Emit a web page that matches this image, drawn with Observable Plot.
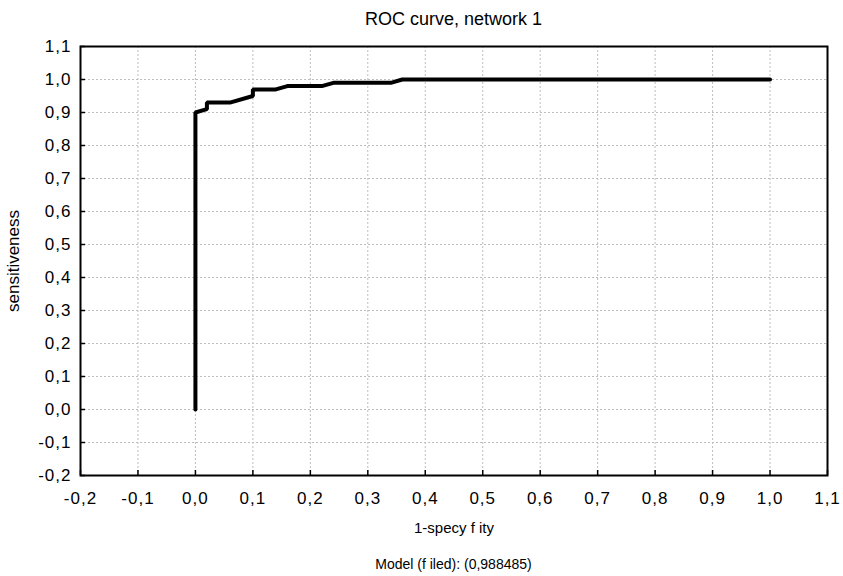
<!DOCTYPE html>
<html>
<head>
<meta charset="utf-8">
<script src="https://cdn.jsdelivr.net/npm/d3@7"></script>
<script src="https://cdn.jsdelivr.net/npm/@observablehq/plot@0.6"></script>
<style>
  html, body { margin: 0; padding: 0; background: #fff; }
  body { width: 843px; height: 576px; overflow: hidden; font-family: "Liberation Sans", Arial, Helvetica, sans-serif; color: #000; }
  .title { box-sizing: border-box; width: 843px; padding-left: 80px; padding-right: 16px; height: 38px; line-height: 38px; text-align: center; font-size: 18px; }
  .caption { box-sizing: border-box; width: 843px; padding-left: 80px; padding-right: 16px; height: 30px; line-height: 37px; text-align: center; font-size: 14px; }
  #chart svg { display: block; }
</style>
</head>
<body>
<div class="title">ROC curve, network 1</div>
<div id="chart"></div>
<div class="caption">Model (f iled): (0,988485)</div>
<script>
// ROC curve points (1 - specificity, sensitivity)
const fpr = [0, 0, 0.02, 0.02, 0.06, 0.10, 0.10, 0.14, 0.16, 0.22, 0.24, 0.34, 0.36, 1.0];
const tpr = [0, 0.90, 0.91, 0.93, 0.93, 0.95, 0.97, 0.97, 0.98, 0.98, 0.99, 0.99, 1.0, 1.0];

const xTicks = [-0.2, -0.1, 0.0, 0.1, 0.2, 0.3, 0.4, 0.5, 0.6, 0.7, 0.8, 0.9, 1.0, 1.1];
const yTicks = [-0.2, -0.1, 0.0, 0.1, 0.2, 0.3, 0.4, 0.5, 0.6, 0.7, 0.8, 0.9, 1.0, 1.1];
const xDomain = [-0.2, 1.1];
const yDomain = [-0.2, 1.1];
const xLabel = "1-specy f ity";
const yLabel = "sensitiveness";

const points = fpr.map((x, i) => ({x, y: tpr[i]}));
const fmt = d => d.toFixed(1).replace(".", ",");

const chart = Plot.plot({
  width: 843,
  height: 508,
  marginLeft: 80,
  marginRight: 16,
  marginTop: 8,
  marginBottom: 71,
  style: {fontFamily: '"Liberation Sans", Arial, Helvetica, sans-serif', fontSize: "15px", color: "#000", background: "#fff"},
  x: {domain: xDomain},
  y: {domain: yDomain},
  marks: [
    Plot.gridX(xTicks, {stroke: "#bdbdbd", strokeOpacity: 1, strokeDasharray: "2,2"}),
    Plot.gridY(yTicks, {stroke: "#bdbdbd", strokeOpacity: 1, strokeDasharray: "2,2"}),
    Plot.axisX(xTicks, {tickSize: 0, tickPadding: 16, tickFormat: fmt, label: null, fontSize: 17}),
    Plot.axisY(yTicks, {tickSize: 0, tickPadding: 9, tickFormat: fmt, label: null, fontSize: 17}),
    Plot.ruleX(xTicks, {x: d => d, y1: yDomain[0], y2: yDomain[0], insetTop: -5, stroke: "#000", strokeWidth: 1.5}),
    Plot.ruleY(yTicks, {y: d => d, x1: xDomain[0], x2: xDomain[0], insetRight: -5, stroke: "#000", strokeWidth: 1.5}),
    Plot.line(points, {x: "x", y: "y", stroke: "#000", strokeWidth: 4, strokeLinejoin: "miter"}),
    Plot.frame({stroke: "#000", strokeWidth: 2}),
    Plot.text([xLabel], {text: d => d, frameAnchor: "bottom", dy: 57, fontSize: 15, ariaLabel: "x-label"}),
    Plot.text([yLabel], {text: d => d, frameAnchor: "left", textAnchor: "middle", dx: -67, rotate: -90, fontSize: 17, ariaLabel: "y-label"})
  ]
});
// loosen letter spacing of tick labels and the y label, as in the reference rendering
chart.querySelectorAll('g[aria-label="x-axis tick label"], g[aria-label="y-axis tick label"], g[aria-label="y-label"]')
  .forEach(g => g.setAttribute("letter-spacing", "1px"));
document.getElementById("chart").appendChild(chart);
</script>
</body>
</html>
